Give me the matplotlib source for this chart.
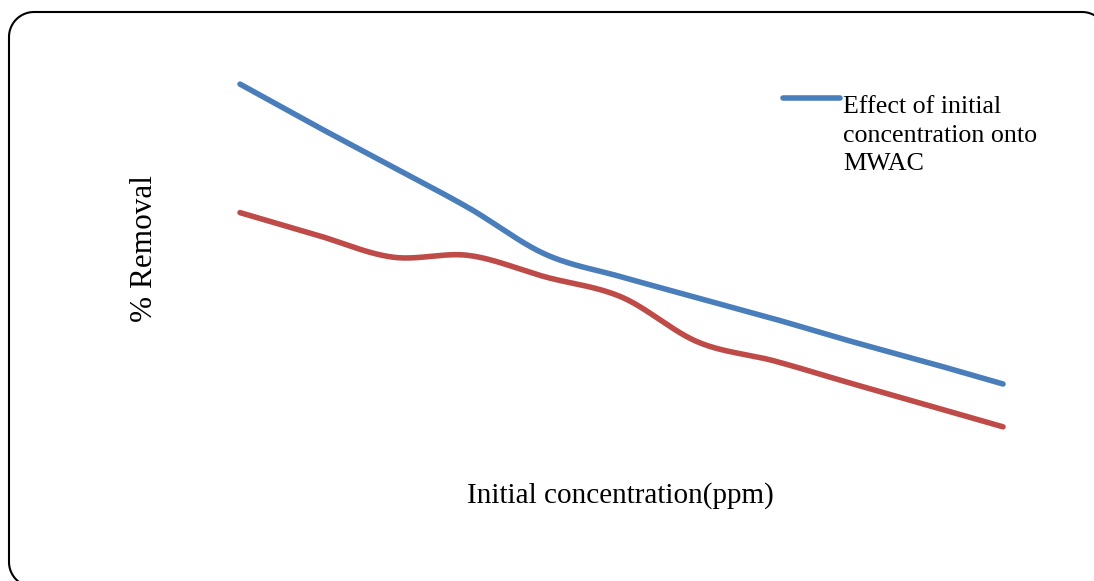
import numpy as np
import matplotlib
matplotlib.use("Agg")
import matplotlib.pyplot as plt
from matplotlib.lines import Line2D
from matplotlib.transforms import IdentityTransform

# Initial concentration (ppm) and % removal for the two adsorbents
concentration = [10, 20, 30, 40, 50, 60, 70, 80, 90, 100, 110]
removal_mwac = [89.5, 79.5, 69.8, 60.0, 49.0, 43.6, 38.6, 33.6, 28.3, 23.3, 18.1]
removal_other = [58.9, 53.6, 48.3, 48.7, 43.6, 38.8, 28.1, 23.6, 18.3, 13.1, 7.9]

legend_label = "Effect of initial\nconcentration onto\nMWAC"
xlabel = "Initial concentration(ppm)"
ylabel = "% Removal"

BLUE = "#4A7EBB"
RED = "#BE4B48"
W, H = 1094, 581


def smooth(x, y, n=40):
    """Cubic Bezier smoothing through every point (spreadsheet-style)."""
    p = np.column_stack([x, y]).astype(float)
    out = [p[:1]]
    t = np.linspace(0, 1, n)[1:, None]
    for i in range(len(p) - 1):
        p0 = p[i - 1] if i > 0 else p[i]
        p1, p2 = p[i], p[i + 1]
        p3 = p[i + 2] if i + 2 < len(p) else p[i + 1]
        c1 = p1 + (p2 - p0) / 6.0
        c2 = p2 - (p3 - p1) / 6.0
        seg = ((1 - t) ** 3) * p1 + 3 * ((1 - t) ** 2) * t * c1 \
            + 3 * (1 - t) * t ** 2 * c2 + t ** 3 * p2
        out.append(seg)
    pts = np.vstack(out)
    return pts[:, 0], pts[:, 1]


def rounded_rect(x0, y0, x1, y1, r, n=24):
    """Outline of a rounded rectangle as a closed polyline (pixel units)."""
    xs, ys = [], []
    corners = [(x1 - r, y1 - r, 0), (x0 + r, y1 - r, 90),
               (x0 + r, y0 + r, 180), (x1 - r, y0 + r, 270)]
    for cx, cy, a0 in corners:
        a = np.radians(np.linspace(a0, a0 + 90, n))
        xs.extend(cx + r * np.cos(a))
        ys.extend(cy + r * np.sin(a))
    xs.append(xs[0])
    ys.append(ys[0])
    return xs, ys


plt.rcParams["font.family"] = ["Liberation Serif", "DejaVu Serif"]

fig = plt.figure(figsize=(W / 100, H / 100), dpi=100)
fig.patch.set_facecolor("white")

# plot area in pixels: first/last category at x=240/1003, 0..100 % over y=460..40
step_px = (1003 - 240) / (len(concentration) - 1)
left_px = 240 - step_px / 2
right_px = 1003 + step_px / 2
ax = fig.add_axes([left_px / W, (H - 460) / H, (right_px - left_px) / W, 420 / H])
ax.set_xlim(concentration[0] - 5, concentration[-1] + 5)
ax.set_ylim(0, 100)
ax.axis("off")

for vals, color in ((removal_mwac, BLUE), (removal_other, RED)):
    sx, sy = smooth(concentration, vals)
    ax.plot(sx, sy, color=color, lw=4.0, solid_capstyle="round",
            solid_joinstyle="round")

# legend key and text (baseline of the last line)
fig.add_artist(Line2D([783, 840], [H - 98, H - 98], transform=IdentityTransform(),
                      color=BLUE, lw=4.0, solid_capstyle="round"))
fig.text(843 / W, (H - 170) / H, legend_label, fontsize=18.7, va="baseline",
         ha="left", linespacing=1.37)

# axis titles
fig.text(620 / W, (H - 503) / H, xlabel, fontsize=21, ha="center", va="baseline")
fig.text(145 / W, (H - 249) / H, ylabel, fontsize=22.5, rotation=90,
         ha="center", va="center")

# rounded chart frame (extends past the right and bottom edges)
fx, fy = rounded_rect(9, H - 587, 1107, H - 12, 25)
fig.add_artist(Line2D(fx, fy, transform=IdentityTransform(), color="black",
                      lw=1.5, solid_joinstyle="round"))

fig.savefig("out.png", dpi=100)
